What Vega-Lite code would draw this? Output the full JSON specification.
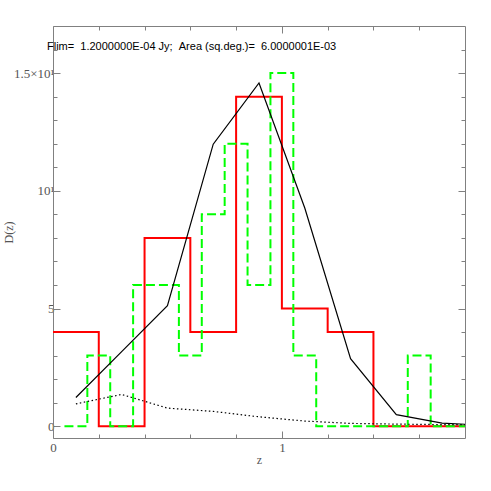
{
  "$schema": "https://vega.github.io/schema/vega-lite/v6.json",
  "width": 412,
  "height": 412,
  "autosize": {"type": "none"},
  "padding": {"left": 53, "top": 26, "right": 26, "bottom": 53},
  "background": "white",
  "config": {
    "view": {"stroke": null},
    "axis": {
      "grid": false,
      "domainColor": "#808080",
      "tickColor": "#808080",
      "labelColor": "#555555",
      "titleColor": "#555555",
      "labelFont": "Liberation Serif",
      "titleFont": "Liberation Serif",
      "labelFontSize": 13,
      "titleFontSize": 12,
      "titleFontWeight": "normal",
      "domainWidth": 1,
      "tickWidth": 1
    }
  },
  "title": {
    "text": "Flim= \u00a01.2000000E-04 Jy; \u00a0Area (sq.deg.)= \u00a06.0000001E-03",
    "anchor": "start",
    "frame": "group",
    "orient": "top",
    "baseline": "middle",
    "offset": -32,
    "dx": -6,
    "font": "Liberation Sans",
    "fontSize": 11,
    "fontWeight": "normal",
    "color": "#000000"
  },
  "datasets": {
    "green": [
      {"z": 0.05, "D": 0}, {"z": 0.15, "D": 3}, {"z": 0.25, "D": 0}, {"z": 0.35, "D": 6},
      {"z": 0.45, "D": 6}, {"z": 0.55, "D": 3}, {"z": 0.65, "D": 9}, {"z": 0.75, "D": 12},
      {"z": 0.85, "D": 6}, {"z": 0.95, "D": 15}, {"z": 1.05, "D": 3}, {"z": 1.15, "D": 0},
      {"z": 1.25, "D": 0}, {"z": 1.35, "D": 0}, {"z": 1.45, "D": 0}, {"z": 1.55, "D": 3},
      {"z": 1.65, "D": 0}, {"z": 1.8, "D": 0}
    ],
    "red": [
      {"z": 0.0, "D": 4}, {"z": 0.2, "D": 0}, {"z": 0.4, "D": 8}, {"z": 0.6, "D": 4},
      {"z": 0.8, "D": 14}, {"z": 1.0, "D": 5}, {"z": 1.2, "D": 4}, {"z": 1.4, "D": 0},
      {"z": 1.6, "D": 0}, {"z": 1.8, "D": 0}
    ],
    "model": [
      {"z": 0.1, "D": 1.22}, {"z": 0.3, "D": 3.17}, {"z": 0.5, "D": 5.12}, {"z": 0.7, "D": 11.98},
      {"z": 0.9, "D": 14.58}, {"z": 1.1, "D": 9.27}, {"z": 1.3, "D": 2.87}, {"z": 1.5, "D": 0.49},
      {"z": 1.7, "D": 0.13}, {"z": 1.9, "D": 0.04}
    ],
    "dotted": [
      {"z": 0.1, "D": 0.95}, {"z": 0.3, "D": 1.35}, {"z": 0.5, "D": 0.77}, {"z": 0.7, "D": 0.63},
      {"z": 0.9, "D": 0.4}, {"z": 1.1, "D": 0.22}, {"z": 1.3, "D": 0.12}, {"z": 1.5, "D": 0.09},
      {"z": 1.7, "D": 0.07}, {"z": 1.9, "D": 0.06}
    ]
  },
  "resolve": {"axis": {"x": "independent", "y": "independent"}},
  "layer": [
    {
      "data": {"name": "red"},
      "mark": {"type": "line", "interpolate": "step-after", "color": "#ff0000", "strokeWidth": 2, "clip": true},
      "encoding": {
        "x": {"field": "z", "type": "quantitative",
              "scale": {"domain": [0, 1.8], "nice": false, "zero": false},
              "axis": {"orient": "bottom", "values": [0, 1], "tickSize": -7, "labelPadding": 10, "title": "z", "titlePadding": 0, "labelFlush": false, "labelOverlap": false}},
        "y": {"field": "D", "type": "quantitative",
              "scale": {"domain": [-0.5, 17], "nice": false, "zero": false},
              "axis": {"orient": "left", "values": [0, 5, 10, 15], "tickSize": -7, "labelPadding": 6, "title": "D(z)",
                       "titleX": -45, "titleY": 206, "titleAngle": -90, "titleAlign": "center", "titleBaseline": "middle",
                       "labelExpr": "datum.value == 10 ? '10¹' : (datum.value == 15 ? '1.5×10¹' : datum.label)", "labelFlush": false, "labelOverlap": false}}
      }
    },
    {
      "data": {"name": "green"},
      "mark": {"type": "line", "interpolate": "step-after", "color": "#00ff00", "strokeWidth": 2, "strokeDash": [9, 4], "clip": true},
      "encoding": {
        "x": {"field": "z", "type": "quantitative",
              "axis": {"orient": "bottom", "values": [0.2, 0.4, 0.6, 0.8, 1.2, 1.4, 1.6], "tickSize": -4, "labels": false, "domain": false, "title": null}},
        "y": {"field": "D", "type": "quantitative",
              "axis": {"orient": "left", "values": [1, 2, 3, 4, 6, 7, 8, 9, 11, 12, 13, 14, 16], "tickSize": -4, "labels": false, "domain": false, "title": null}}
      }
    },
    {
      "data": {"name": "model"},
      "mark": {"type": "line", "color": "#000000", "strokeWidth": 1.2, "clip": true},
      "encoding": {
        "x": {"field": "z", "type": "quantitative",
              "axis": {"orient": "top", "values": [0, 1], "tickSize": -7, "labels": false, "title": null}},
        "y": {"field": "D", "type": "quantitative",
              "axis": {"orient": "right", "values": [0, 5, 10, 15], "tickSize": -7, "labels": false, "title": null}}
      }
    },
    {
      "data": {"name": "dotted"},
      "mark": {"type": "line", "color": "#000000", "strokeWidth": 1.2, "strokeDash": [1.5, 2.5], "clip": true},
      "encoding": {
        "x": {"field": "z", "type": "quantitative",
              "axis": {"orient": "top", "values": [0.2, 0.4, 0.6, 0.8, 1.2, 1.4, 1.6], "tickSize": -4, "labels": false, "domain": false, "title": null}},
        "y": {"field": "D", "type": "quantitative",
              "axis": {"orient": "right", "values": [1, 2, 3, 4, 6, 7, 8, 9, 11, 12, 13, 14, 16], "tickSize": -4, "labels": false, "domain": false, "title": null}}
      }
    }
  ]
}
